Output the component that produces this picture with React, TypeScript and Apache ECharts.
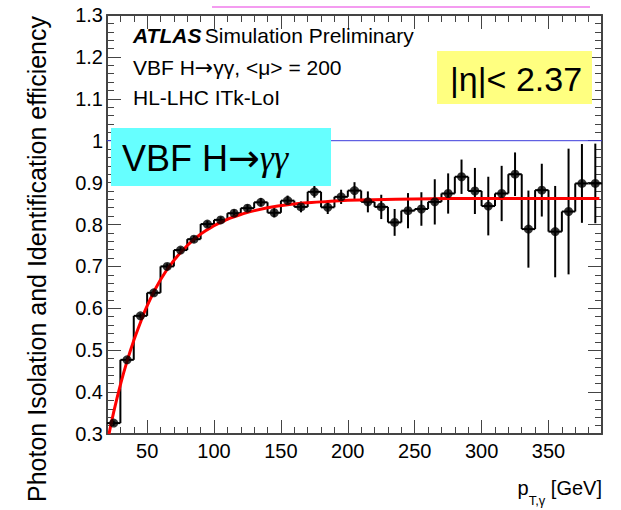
import React, { useEffect, useRef } from "react";
import * as echarts from "echarts";

// ---- data ----
const ptRange = [20, 390];
const binWidth = 10;
const binCenters = [25, 35, 45, 55, 65, 75, 85, 95, 105, 115, 125, 135, 145, 155, 165, 175, 185, 195, 205, 215, 225, 235, 245, 255, 265, 275, 285, 295, 305, 315, 325, 335, 345, 355, 365, 375, 385];
const efficiency = [0.326, 0.477, 0.582, 0.637, 0.7, 0.739, 0.765, 0.801, 0.811, 0.827, 0.839, 0.853, 0.828, 0.857, 0.842, 0.878, 0.841, 0.866, 0.881, 0.854, 0.842, 0.805, 0.833, 0.837, 0.854, 0.874, 0.914, 0.88, 0.844, 0.874, 0.92, 0.789, 0.882, 0.783, 0.831, 0.898, 0.898];
const efficiencyErr = [0.006, 0.006, 0.006, 0.007, 0.007, 0.007, 0.008, 0.008, 0.008, 0.009, 0.009, 0.01, 0.011, 0.012, 0.013, 0.014, 0.016, 0.017, 0.02, 0.025, 0.029, 0.032, 0.042, 0.04, 0.054, 0.048, 0.041, 0.055, 0.07, 0.066, 0.052, 0.092, 0.063, 0.109, 0.15, 0.094, 0.095];
const fitPt = [21.5, 25, 30, 35, 40, 45, 50, 60, 70, 80, 90, 100, 110, 120, 140, 160, 180, 200, 250, 300, 388];
const fitEff = [0.3, 0.352, 0.417, 0.474, 0.523, 0.566, 0.606, 0.668, 0.714, 0.75, 0.777, 0.797, 0.812, 0.824, 0.84, 0.849, 0.854, 0.858, 0.861, 0.862, 0.862];
const unity = 1.0;
const yRange = [0.3, 1.3];

const FONT = "Liberation Sans";
const AXIS_COLOR = "#444";

export default function App() {
  const ref = useRef<HTMLDivElement>(null);
  useEffect(() => {
    document.body.style.margin = "0";
    if (!ref.current) return;
    const chart = echarts.init(ref.current, undefined, { renderer: "svg" });

    const tickCommon = {
      axisLine: { show: true, onZero: false, lineStyle: { color: AXIS_COLOR, width: 2 } },
      axisTick: { show: true, inside: true, length: 14, lineStyle: { color: AXIS_COLOR, width: 1 } },
      minorTick: { show: true, splitNumber: 5, length: 7, lineStyle: { color: AXIS_COLOR, width: 1 } },
      splitLine: { show: false },
      minorSplitLine: { show: false },
    };
    const xCommon = {
      type: "value" as const,
      min: ptRange[0],
      max: ptRange[1],
      splitNumber: 7,
      minInterval: 50,
      maxInterval: 50,
      ...tickCommon,
    };
    const yCommon = {
      type: "value" as const,
      min: yRange[0],
      max: yRange[1],
      interval: 0.1,
      ...tickCommon,
    };

    const histData = binCenters.map((c, i) => [c, efficiency[i]]);
    const errData = binCenters.map((c, i) => [c, efficiency[i], efficiencyErr[i]]);

    chart.setOption({
      animation: false,
      textStyle: { fontFamily: FONT },
      grid: { left: 107, right: 19, top: 15, bottom: 76 },
      xAxis: [
        {
          ...xCommon,
          position: "bottom",
          axisLabel: {
            show: true,
            showMinLabel: false,
            showMaxLabel: false,
            fontSize: 20,
            color: "#000",
            fontFamily: FONT,
            margin: 7,
          },
        },
        { ...xCommon, position: "top", axisLabel: { show: false } },
      ],
      yAxis: [
        {
          ...yCommon,
          position: "left",
          axisLabel: { show: true, fontSize: 20, color: "#000", fontFamily: FONT, margin: 4 },
        },
        { ...yCommon, position: "right", axisLabel: { show: false } },
      ],
      series: [
        {
          type: "line",
          data: [
            [ptRange[0], unity],
            [ptRange[1], unity],
          ],
          showSymbol: false,
          lineStyle: { color: "#3c3cdc", width: 1 },
          z: 1,
        },
        {
          type: "custom",
          data: histData,
          clip: true,
          z: 3,
          renderItem: (params: any, api: any) => {
            const i = params.dataIndex;
            const c = api.value(0);
            const v = api.value(1);
            const half = binWidth / 2;
            const p1 = api.coord([c - half, v]);
            const p2 = api.coord([c + half, v]);
            const style = { stroke: "#000", lineWidth: 2, fill: "none" };
            const children: any[] = [
              { type: "line", shape: { x1: p1[0], y1: p1[1], x2: p2[0], y2: p2[1] }, style },
            ];
            if (i > 0) {
              const p0 = api.coord([c - half, efficiency[i - 1]]);
              children.push({ type: "line", shape: { x1: p0[0], y1: p0[1], x2: p1[0], y2: p1[1] }, style });
            }
            return { type: "group", children };
          },
        },
        {
          type: "custom",
          data: errData,
          clip: true,
          z: 4,
          renderItem: (params: any, api: any) => {
            const c = api.value(0);
            const v = api.value(1);
            const e = api.value(2);
            const a = api.coord([c, v - e]);
            const b = api.coord([c, v + e]);
            return {
              type: "line",
              shape: { x1: a[0], y1: a[1], x2: b[0], y2: b[1] },
              style: { stroke: "#000", lineWidth: 2 },
            };
          },
        },
        {
          type: "line",
          data: fitPt.map((p, i) => [p, fitEff[i]]),
          smooth: true,
          showSymbol: false,
          lineStyle: { color: "#ff0000", width: 3 },
          z: 5,
        },
        {
          type: "scatter",
          data: histData,
          symbol: "circle",
          symbolSize: 9,
          itemStyle: { color: "#000" },
          z: 6,
        },
      ],
      graphic: [
        {
          type: "line",
          z: 100,
          shape: { x1: 212, y1: 7, x2: 590, y2: 7 },
          style: { stroke: "#f49cf0", lineWidth: 2 },
        },
        {
          type: "rect",
          z: 100,
          shape: { x: 111, y: 128, width: 220, height: 58 },
          style: { fill: "#66ffff" },
        },
        {
          type: "text",
          z: 101,
          x: 122,
          y: 158,
          style: {
            text: "{a|VBF H}{b|→}{c|γγ}",
            verticalAlign: "middle",
            align: "left",
            rich: {
              a: { fontSize: 36, fontFamily: FONT, fill: "#000" },
              b: { fontSize: 38, fontFamily: "DejaVu Sans", fill: "#000" },
              c: { fontSize: 36, fontFamily: "Liberation Serif", fontStyle: "italic", fill: "#000" },
            },
          },
        },
        {
          type: "rect",
          z: 100,
          shape: { x: 437, y: 51, width: 155, height: 53 },
          style: { fill: "#ffff80" },
        },
        {
          type: "text",
          z: 101,
          x: 450,
          y: 79,
          style: { text: "|η|< 2.37", fontSize: 34, fontFamily: FONT, fill: "#000", verticalAlign: "middle" },
        },
        {
          type: "text",
          z: 101,
          x: 133,
          y: 35,
          style: {
            text: "{b|ATLAS} {n|Simulation Preliminary}",
            verticalAlign: "middle",
            rich: {
              b: { fontSize: 21, fontFamily: FONT, fontWeight: "bold", fontStyle: "italic", fill: "#000" },
              n: { fontSize: 21, fontFamily: FONT, fill: "#000" },
            },
          },
        },
        {
          type: "text",
          z: 101,
          x: 133,
          y: 67,
          style: {
            text: "{n|VBF H}{a|→}{n|γγ, <μ> = 200}",
            verticalAlign: "middle",
            rich: {
              n: { fontSize: 21, fontFamily: FONT, fill: "#000" },
              a: { fontSize: 22, fontFamily: "DejaVu Sans", fill: "#000" },
            },
          },
        },
        {
          type: "text",
          z: 101,
          x: 133,
          y: 97,
          style: { text: "HL-LHC ITk-LoI", fontSize: 21, fontFamily: FONT, fill: "#000", verticalAlign: "middle" },
        },
        {
          type: "text",
          z: 101,
          x: 37,
          y: 259,
          rotation: Math.PI / 2,
          style: {
            text: "Photon Isolation and Identification efficiency",
            fontSize: 25,
            fontFamily: FONT,
            fill: "#000",
            align: "center",
            verticalAlign: "middle",
          },
        },
        {
          type: "text",
          z: 101,
          x: 602,
          y: 478,
          style: {
            text: "{m|p}{s|T,γ}{m| [GeV]}",
            align: "right",
            verticalAlign: "top",
            rich: {
              m: { fontSize: 20, fontFamily: FONT, fill: "#000", lineHeight: 24, verticalAlign: "top" },
              s: { fontSize: 13, fontFamily: FONT, fill: "#000", lineHeight: 29, verticalAlign: "bottom" },
            },
          },
        },
      ],
    });
    return () => chart.dispose();
  }, []);
  return <div ref={ref} style={{ width: 621, height: 510 }} />;
}
